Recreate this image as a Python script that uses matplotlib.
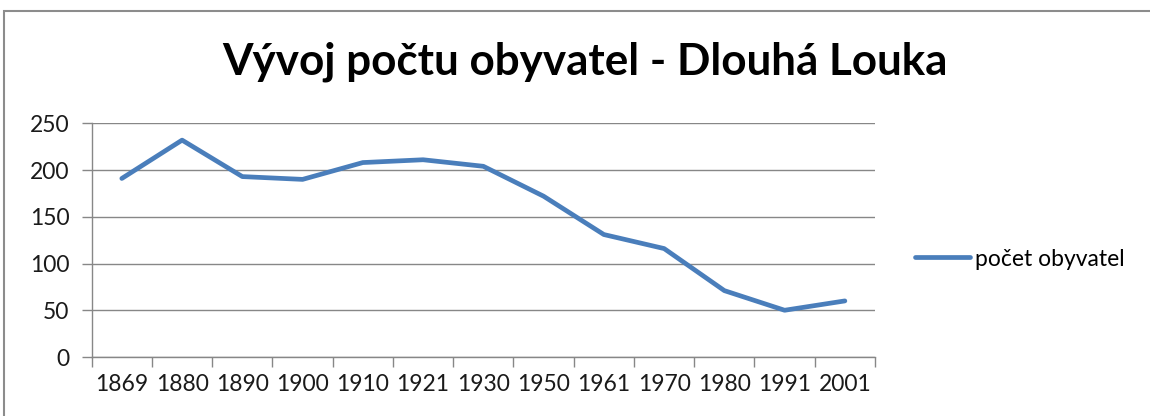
import matplotlib.pyplot as plt
from matplotlib.patches import Rectangle
from matplotlib.ticker import FixedLocator

# Data
years = ['1869', '1880', '1890', '1900', '1910', '1921', '1930',
         '1950', '1961', '1970', '1980', '1991', '2001']
population = [191, 232, 193, 190, 208, 211, 204, 172, 131, 116, 71, 50, 60]

title = 'Vývoj počtu obyvatel - Dlouhá Louka'
series_name = 'počet obyvatel'

plt.rcParams['font.family'] = ['Lato', 'DejaVu Sans']

W, H = 1150, 416
fig = plt.figure(figsize=(W / 100, H / 100), dpi=100)

# chart frame (Excel-like border, cut off right/bottom)
fig.add_artist(Rectangle((4 / W, -0.1), 1.2, (H - 11) / H + 0.1,
                         transform=fig.transFigure, fill=False,
                         edgecolor='#8c8c8c', linewidth=1.5))

ax = fig.add_axes([91.7 / W, (H - 357) / H, (875 - 91.7) / W, (357 - 123.3) / H])

x = range(len(years))
line_color = '#4a7ebb'
ax.plot(x, population, color=line_color, linewidth=3.4,
        solid_joinstyle='round', solid_capstyle='round', label=series_name)

ax.set_xlim(-0.5, len(years) - 0.5)
ax.set_ylim(0, 250)
ax.set_yticks(range(0, 251, 50))
ax.set_xticks(list(x))
ax.set_xticklabels(years)
ax.xaxis.set_minor_locator(FixedLocator([i - 0.5 for i in range(len(years) + 1)]))

ax.grid(axis='y', color='#878787', linewidth=1)
ax.set_axisbelow(True)
for s in ['top', 'right']:
    ax.spines[s].set_visible(False)
for s in ['left', 'bottom']:
    ax.spines[s].set_color('#878787')
    ax.spines[s].set_linewidth(1)

lab = 16.5
ax.tick_params(axis='x', which='major', length=0, pad=12, labelsize=lab, colors='#1a1a1a')
ax.tick_params(axis='x', which='minor', length=7, width=1, color='#878787')
ax.tick_params(axis='y', length=7, width=1, color='#878787', pad=9,
               labelsize=lab, labelcolor='#1a1a1a')

# title, scaled to the reference width
t = fig.text(585 / W, (H - 62) / H, title, ha='center', va='center',
             fontsize=30, fontweight='bold', color='black')
fig.canvas.draw()
bb = t.get_window_extent()
t.set_fontsize(30 * 726 / bb.width)

ax.legend(loc='center left', bbox_to_anchor=(915 / W, (H - 259) / H),
          bbox_transform=fig.transFigure, frameon=False, fontsize=lab,
          handlelength=2.4, handletextpad=0.2, borderpad=0, borderaxespad=0)

fig.savefig('out.png', dpi=100)
